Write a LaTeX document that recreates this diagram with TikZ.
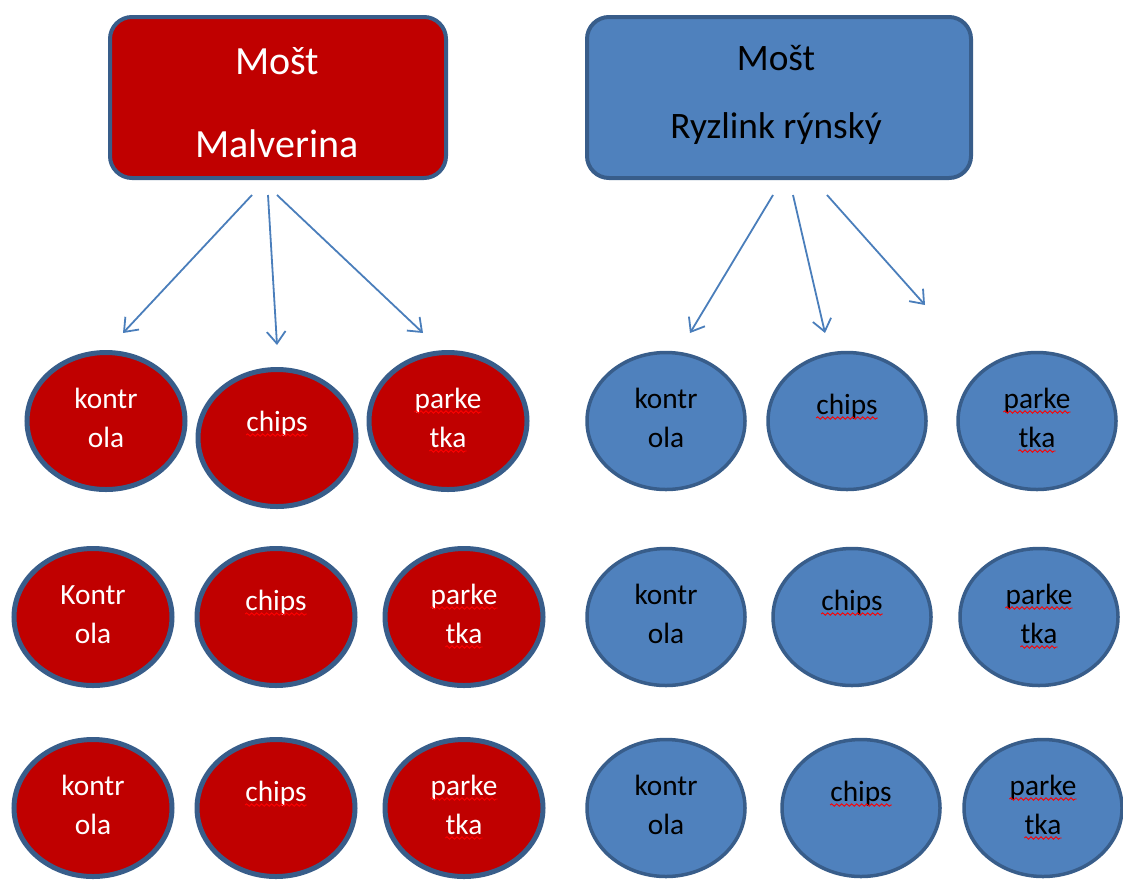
\documentclass[tikz,border=0pt]{standalone}
\usepackage{fontspec}
\setmainfont{Carlito}
\usetikzlibrary{arrows.meta,shapes.geometric,decorations.pathmorphing}

\definecolor{wred}{HTML}{C00000}
\definecolor{wblue}{HTML}{4F81BD}
\definecolor{rimcol}{HTML}{385D8A}
\definecolor{conncol}{HTML}{4A7EBB}
\definecolor{spellcol}{HTML}{FF0000}
\newdimen\pxu \pxu=0.75pt

\begin{document}
\begin{tikzpicture}[x=0.75pt,y=-0.75pt,
  headbox/.style={rectangle, rounded corners=22\pxu, line width=4\pxu, draw=rimcol,
    minimum height=161\pxu, inner sep=0},
  redhead/.style={headbox, fill=wred, minimum width=336\pxu},
  bluehead/.style={headbox, fill=wblue, minimum width=384\pxu},
  oval/.style={ellipse, draw=rimcol, inner sep=0, minimum width=158\pxu, minimum height=137\pxu},
  redoval/.style={oval, fill=wred, line width=5\pxu},
  blueoval/.style={oval, fill=wblue, line width=3.5\pxu},
  lbl/.style={inner sep=0, anchor=base, font=\fontsize{22}{26}\selectfont},
  wlbl/.style={lbl, text=white},
  klbl/.style={lbl, text=black},
  spellmark/.style={draw=spellcol, line width=0.9\pxu, decorate,
    decoration={snake, amplitude=1.2\pxu, segment length=5\pxu}},
  conn/.style={draw=conncol, line width=1.8\pxu, -{Straight Barb[length=9pt,width=14pt]}}
]
\useasboundingbox (0,0) rectangle (1123,879);

% ---- headings ----
\node[redhead]  (hred)  at (278,97.5) {};
\node[bluehead] (hblue) at (779,97.5) {};
\node[inner sep=0, anchor=base, text=white, font=\fontsize{30}{34}\selectfont] (hred1) at (277,74) {Mošt};
\node[inner sep=0, anchor=base, text=white, font=\fontsize{30}{34}\selectfont] (hred2) at (277,157) {Malverina};
\node[inner sep=0, anchor=base, text=black, font=\fontsize{28}{32}\selectfont] (hblue1) at (776,70) {Mošt};
\node[inner sep=0, anchor=base, text=black, font=\fontsize{28}{32}\selectfont] (hblue2) at (776,138) {Ryzlink rýnský};

% ---- connector end points ----
\coordinate (rs1) at (252,195); \coordinate (re1) at (123,333);
\coordinate (rs2) at (268,195); \coordinate (re2) at (277,345);
\coordinate (rs3) at (277,195); \coordinate (re3) at (423,333);
\coordinate (bs1) at (773,195); \coordinate (be1) at (690,333);
\coordinate (bs2) at (793,195); \coordinate (be2) at (825,333);
\coordinate (bs3) at (827,195); \coordinate (be3) at (925,305);
\draw[conn] (rs1) -- (re1);
\draw[conn] (rs2) -- (re2);
\draw[conn] (rs3) -- (re3);
\draw[conn] (bs1) -- (be1);
\draw[conn] (bs2) -- (be2);
\draw[conn] (bs3) -- (be3);

% ---- ovals ----
\node[redoval] (ra1) at (106,421) {};
\node[redoval] (rb1) at (277,438) {};
\node[redoval] (rc1) at (448,421) {};
\node[redoval] (ra2) at (93,617) {};
\node[redoval] (rb2) at (276,617) {};
\node[redoval] (rc2) at (464,617) {};
\node[redoval] (ra3) at (93,808) {};
\node[redoval] (rb3) at (276,808) {};
\node[redoval] (rc3) at (464,808) {};
\node[blueoval] (ba1) at (666,421) {};
\node[blueoval] (bb1) at (847,421) {};
\node[blueoval] (bc1) at (1037,421) {};
\node[blueoval] (ba2) at (666,617) {};
\node[blueoval] (bb2) at (852,617) {};
\node[blueoval] (bc2) at (1039,617) {};
\node[blueoval] (ba3) at (666,808) {};
\node[blueoval] (bb3) at (861,808) {};
\node[blueoval] (bc3) at (1043,808) {};

% ---- oval labels ----
\foreach \o/\s/\first in {ra1/wlbl/kontr, ra2/wlbl/Kontr, ra3/wlbl/kontr,
                          ba1/klbl/kontr, ba2/klbl/kontr, ba3/klbl/kontr}{
  \node[\s] (\o-l1) at ([yshift=9.75pt]\o.center) {\first};
  \node[\s] (\o-l2) at ([yshift=-19.5pt]\o.center) {ola};
}
\foreach \o/\s in {rb1/wlbl, rb2/wlbl, rb3/wlbl, bb1/klbl, bb2/klbl, bb3/klbl}{
  \node[\s] (\o-l1) at ([yshift=5.25pt]\o.center) {chips};
  \draw[spellmark] ([yshift=-3pt]\o-l1.base west) -- ([yshift=-3pt]\o-l1.base east);
}
\foreach \o/\s in {rc1/wlbl, rc2/wlbl, rc3/wlbl, bc1/klbl, bc2/klbl, bc3/klbl}{
  \node[\s] (\o-l1) at ([yshift=9.75pt]\o.center) {parke};
  \node[\s] (\o-l2) at ([yshift=-19.5pt]\o.center) {tka};
  \draw[spellmark] ([yshift=-3pt]\o-l1.base west) -- ([yshift=-3pt]\o-l1.base east);
  \draw[spellmark] ([yshift=-3pt]\o-l2.base west) -- ([yshift=-3pt]\o-l2.base east);
}
\end{tikzpicture}
\end{document}
